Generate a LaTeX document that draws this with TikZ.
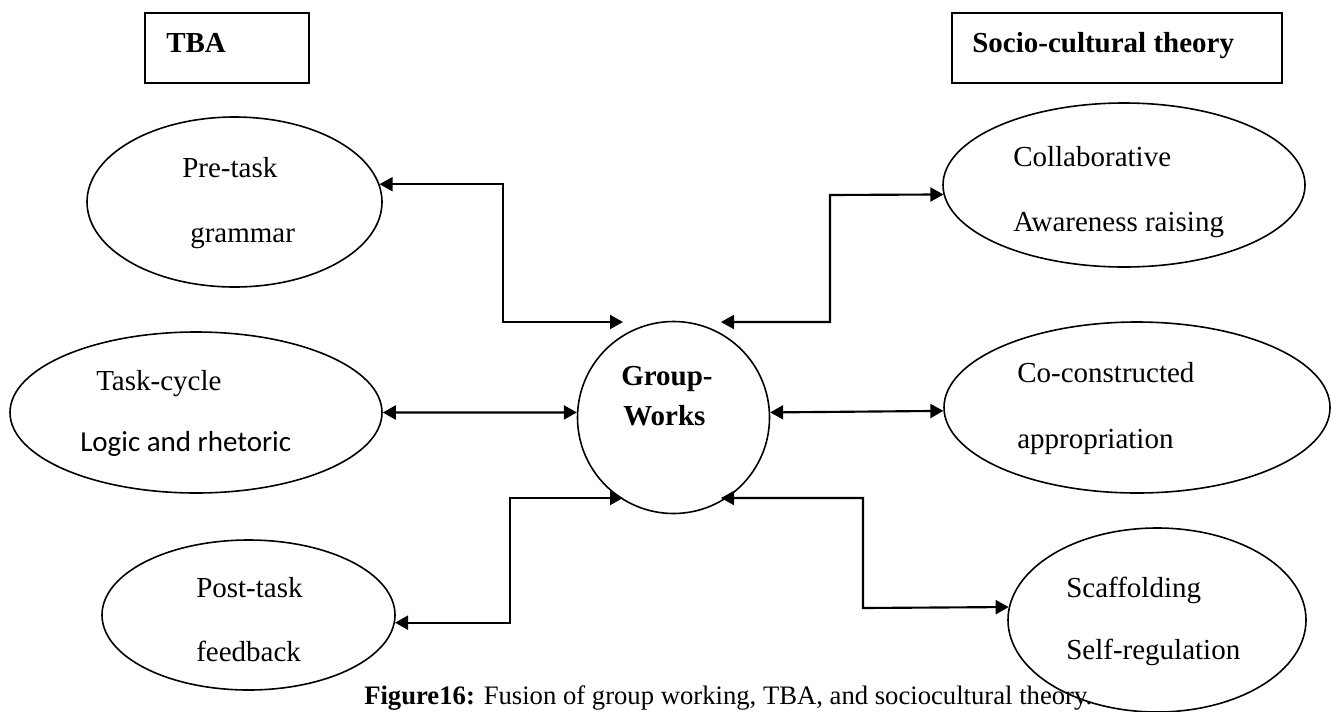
\documentclass[tikz,border=0pt]{standalone}
\usepackage{fontspec}
\setmainfont{Liberation Serif}
\newfontfamily\calib{Carlito}
\usetikzlibrary{arrows.meta,shapes.geometric}
\begin{document}
\begin{tikzpicture}[x=0.75pt,y=-0.75pt,
  oval/.style={draw,ellipse,line width=1.2pt,inner sep=0pt},
  hbox/.style={draw,rectangle,line width=1.5pt,inner sep=0pt,minimum height=52.5pt},
  lbl/.style={anchor=base west,inner sep=0pt,font=\fontsize{21.75}{26}\selectfont},
  blbl/.style={anchor=base west,inner sep=0pt,font=\fontsize{21.75}{26}\selectfont\bfseries},
  conn/.style={line width=1.6pt,{Triangle[length=9.75pt,width=10.5pt]}-{Triangle[length=9.75pt,width=10.5pt]}}]
\useasboundingbox (0,0) rectangle (1334,711);
\fill[white] (0,0) rectangle (1334,711);

% header boxes
\node[hbox,minimum width=123pt] (tba) at (227,48) {};
\node[blbl] (tbat) at (166,52) {TBA};
\node[hbox,minimum width=247.5pt] (sct) at (1117,48) {};
\node[blbl] (sctt) at (972,52) {Socio-cultural theory};

% ellipses left
\node[oval,minimum width=221.25pt,minimum height=127.5pt] (pre) at (234.5,202) {};
\node[lbl] (pre1) at (182,177) {Pre-task};
\node[lbl] (pre2) at (190,242) {grammar};

\node[oval,minimum width=279pt,minimum height=120.75pt] (task) at (196,412.5) {};
\node[lbl] (task1) at (96,390) {Task-cycle};
\node[lbl,font=\calib\fontsize{21.75}{26}\selectfont] (task2) at (80,451) {Logic and rhetoric};

\node[oval,minimum width=219.75pt,minimum height=112.5pt] (post) at (248.5,615) {};
\node[lbl] (post1) at (196,597) {Post-task};
\node[lbl] (post2) at (196,661) {feedback};

% ellipses right
\node[oval,minimum width=271.5pt,minimum height=123pt] (col) at (1124,185) {};
\node[lbl] (col1) at (1013,166) {Collaborative};
\node[lbl] (col2) at (1013,231) {Awareness raising};

\node[oval,minimum width=289.5pt,minimum height=128.25pt] (coc) at (1137,407.5) {};
\node[lbl] (coc1) at (1017,382) {Co-constructed};
\node[lbl] (coc2) at (1017,448) {appropriation};

\node[oval,minimum width=223.5pt,minimum height=138pt] (scf) at (1157,620) {};
\node[lbl] (scf1) at (1066,597) {Scaffolding};
\node[lbl] (scf2) at (1066,659) {Self-regulation};

% centre
\node[draw,circle,line width=1.2pt,inner sep=0pt,minimum size=144pt] (gw) at (673.5,417.5) {};
\node[blbl] (gw1) at (621,385) {Group-};
\node[blbl] (gw2) at (623,425) {Works};

\coordinate (gTL) at (623,322);
\coordinate (gTR) at (721,322);
\coordinate (gBL) at (623,498);
\coordinate (gBR) at (721,498);

% connectors
\draw[conn] (pre.7) -| (503,322) -- (gTL);
\draw[conn] (task.east) -- (gw.177);
\draw[conn] (post.-3) -| (510,498) -- (gBL);
\draw[conn] (gTR) -| (830,195) -- (col.183);
\draw[conn] (gw.3) -- (coc.181);
\draw[conn] (gBR) -| (863,608) -- (scf.175);

% caption
\node[anchor=base west,inner sep=0pt,font=\fontsize{20}{24}\selectfont] (cap) at (364,704) {\textbf{Figure16:} Fusion of group working, TBA, and sociocultural theory.};
\end{tikzpicture}
\end{document}
